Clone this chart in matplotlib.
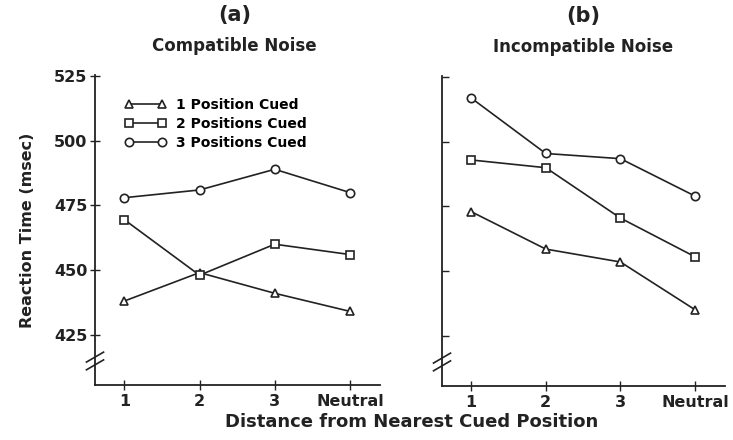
import numpy as np
import matplotlib.pyplot as plt

# x positions and labels
positions = [1, 2, 3, 4]
tick_labels = ['1', '2', '3', 'Neutral']
y_ticks = [425, 450, 475, 500, 525]

# (a) Compatible noise
compat_one = [438, 449, 441, 434]
compat_two = [469.5, 448, 460, 456]
compat_three = [478, 481, 489, 480]

# (b) Incompatible noise
incompat_one = [473, 458.5, 453.5, 435]
incompat_two = [493, 490, 470.5, 455.5]
incompat_three = [517, 495.5, 493.5, 479]

series_names = ['1 Position Cued', '2 Positions Cued', '3 Positions Cued']
markers = ['^', 's', 'o']

plt.rcParams['font.family'] = ['DejaVu Sans']
plt.rcParams['font.weight'] = 'bold'
ink = '#222222'

fig = plt.figure(figsize=(7.33, 4.4), dpi=100)
ax_a = fig.add_axes([95/733, 1-385/440, 285/733, 310/440])
ax_b = fig.add_axes([442/733, 1-386/440, 283/733, 310/440])

panels = [
    (ax_a, [compat_one, compat_two, compat_three], '(a)', 'Compatible Noise', 0.49),
    (ax_b, [incompat_one, incompat_two, incompat_three], '(b)', 'Incompatible Noise', 0.50),
]

for ax, data, letter, title, cx in panels:
    for vals, m, name in zip(data, markers, series_names):
        ax.plot(positions, vals, color=ink, lw=1.2, marker=m, markersize=6,
                markerfacecolor='white', markeredgecolor=ink, markeredgewidth=1.2,
                label=name)
    ax.set_xlim(0.61, 4.4)
    ax.set_ylim(405.5, 525.5)
    ax.set_xticks(positions)
    ax.set_xticklabels(tick_labels, fontsize=11.5, fontweight='bold', color=ink)
    ax.set_yticks(y_ticks)
    ax.spines['top'].set_visible(False)
    ax.spines['right'].set_visible(False)
    for s in ['left', 'bottom']:
        ax.spines[s].set_color(ink)
        ax.spines[s].set_linewidth(1.3)
    ax.tick_params(axis='x', direction='inout', length=7, width=1, colors=ink, pad=3)
    # y-axis break marks
    for yb in [0.065, 0.09]:
        ax.plot([-0.03, 0.03], [yb - 0.016, yb + 0.016], transform=ax.transAxes,
                color=ink, lw=1.2, clip_on=False)
    ax.text(cx, 1.195, letter, transform=ax.transAxes, ha='center', va='center',
            fontsize=15, fontweight='bold', color=ink)
    ax.text(cx, 1.095, title, transform=ax.transAxes, ha='center', va='center',
            fontsize=12, fontweight='bold', color=ink)

ax_a.tick_params(axis='y', direction='inout', length=7, width=1, colors=ink,
                 labelsize=11.5, pad=2)
ax_a.set_yticklabels([str(v) for v in y_ticks], fontweight='bold', color=ink)
ax_a.set_ylabel('Reaction Time (msec)', fontsize=11.5, fontweight='bold', color=ink,
                labelpad=14)
ax_b.tick_params(axis='y', direction='in', length=5, width=1, colors=ink,
                 labelleft=False)

ax_a.legend(loc='upper left', bbox_to_anchor=(0.06, 0.965), frameon=False,
            numpoints=2, handlelength=3.0, labelspacing=0.35,
            handletextpad=0.7, prop={'weight': 'bold', 'size': 10})

fig.text(412/733, 1-422/440, 'Distance from Nearest Cued Position', ha='center',
         va='center', fontsize=13, fontweight='bold', color=ink)

plt.savefig('out.png', dpi=100)
